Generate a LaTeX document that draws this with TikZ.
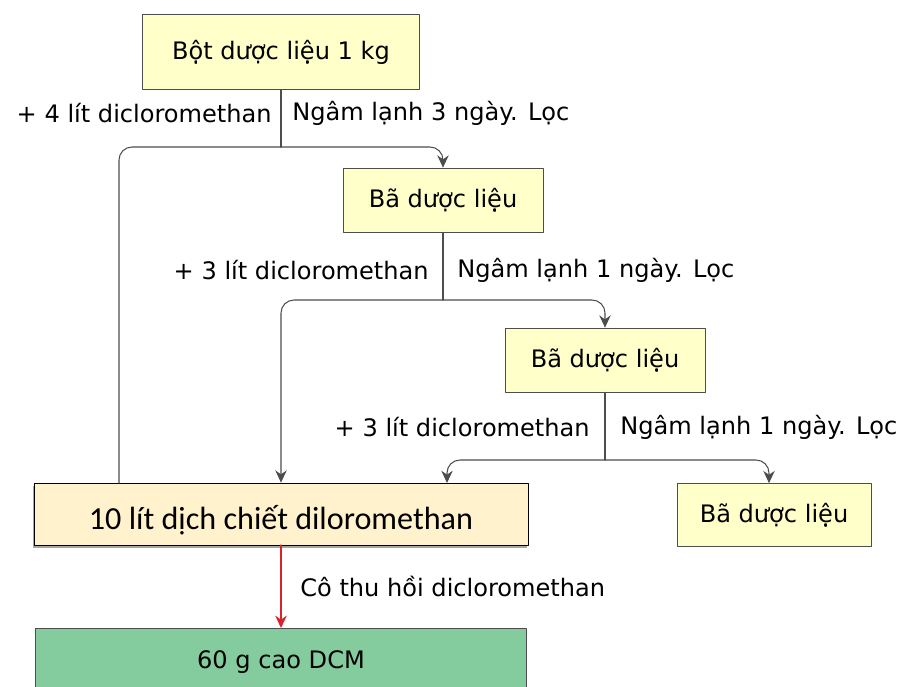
\documentclass[tikz,border=0pt]{standalone}
\usepackage{fontspec}
\setmainfont{DejaVu Sans}
\newfontfamily\calfont{Carlito}
\usetikzlibrary{arrows.meta,shadows}
\definecolor{vang}{HTML}{FFFFC9}
\definecolor{kem}{HTML}{FFF2CC}
\definecolor{xanh}{HTML}{84CB9D}
\definecolor{vien}{HTML}{4D4D4D}
\definecolor{do}{HTML}{D8232A}
\begin{document}
\begin{tikzpicture}[x=0.02cm,y=-0.02cm,line cap=round,line join=round,font=\fontsize{13.7}{16}\selectfont]
	\tikzset{hop/.style={draw=vien,fill=vang,inner sep=0pt,minimum width=4cm,minimum height=1.28cm},
		nhan/.style={inner sep=0pt},
		noi/.style={draw=vien,line width=0.6pt,rounded corners=0.26cm},
		mui/.style={noi,-{Stealth[length=7pt,width=6.5pt]}}}
	\useasboundingbox (0,0) rectangle (902,686);
	% cac hop
	\node[hop,minimum width=5.54cm,minimum height=1.5cm] (bot) at (281,52) {Bột dược liệu 1 kg};
	\node[hop] (ba1) at (443,200) {Bã dược liệu};
	\node[hop] (ba2) at (605,360) {Bã dược liệu};
	\node[hop,minimum width=3.88cm,minimum height=1.26cm] (ba3) at (774,515) {Bã dược liệu};
	\node[hop,fill=kem,draw=black,minimum width=9.88cm,minimum height=1.24cm,
		drop shadow={shadow xshift=-0.6pt,shadow yshift=-1.6pt,fill=gray!70,opacity=1}] (dich) at (281,514) {};
	\node[font=\calfont\fontsize{18.3}{21}\selectfont] (dichtext) at (281,520) {10 lít dịch chiết diloromethan};
	\node[hop,fill=xanh,minimum width=9.82cm,minimum height=1.6cm,anchor=north] (cao) at (281,628) {};
	\node (caotext) at (281,662) {60 g cao DCM};
	% nhan
	\node[nhan,anchor=east] (t1) at (272,113) {+ 4 lít dicloromethan};
	\node[nhan,anchor=west] (n1) at (292,113) {Ngâm lạnh 3 ngày. Lọc};
	\node[nhan,anchor=east] (t2) at (429,270) {+ 3 lít dicloromethan};
	\node[nhan,anchor=west] (n2) at (457,270) {Ngâm lạnh 1 ngày. Lọc};
	\node[nhan,anchor=east] (t3) at (590,427) {+ 3 lít dicloromethan};
	\node[nhan,anchor=west] (n3) at (620,427) {Ngâm lạnh 1 ngày. Lọc};
	\node[nhan,anchor=west] (co) at (300,586) {Cô thu hồi dicloromethan};
	% diem re
	\coordinate (r1) at (281,147);
	\coordinate (r2) at (443,300);
	\coordinate (r3) at (605,460);
	\coordinate (d1) at (119,483);
	\coordinate (d3) at (447,483);
	% duong noi
	\draw[noi] (bot) -- (r1);
	\draw[noi] (r1) -| (d1);
	\draw[mui] (r1) -| (ba1);
	\draw[noi] (ba1) -- (r2);
	\draw[mui] (r2) -| (dich);
	\draw[mui] (r2) -| (ba2);
	\draw[noi] (ba2) -- (r3);
	\draw[mui] (r3) -| (d3);
	\draw[mui] (r3) -| ([xshift=-0.1cm]ba3.north);
	\draw[mui,draw=do,line width=1.3pt] (dich) -- (cao);
\end{tikzpicture}
\end{document}
